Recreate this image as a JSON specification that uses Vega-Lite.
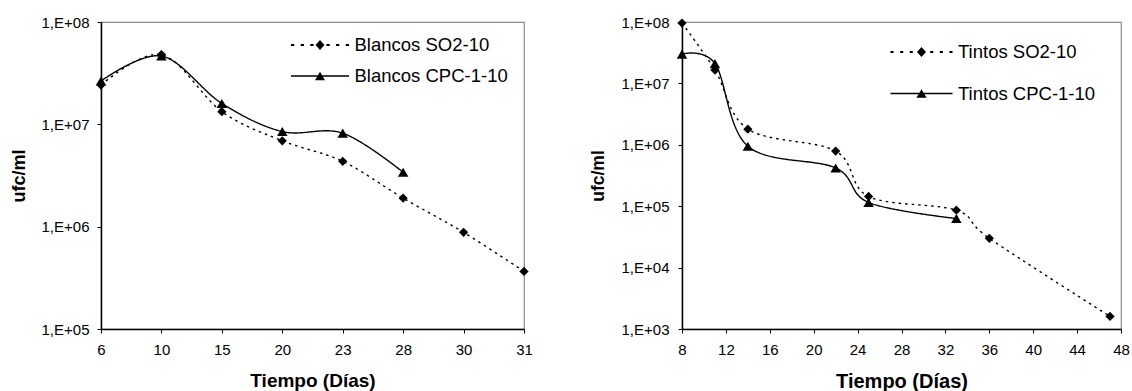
{
  "$schema": "https://vega.github.io/schema/vega-lite/v6.json",
  "background": "white",
  "padding": {"left": 9, "top": 14, "right": 5, "bottom": 0},
  "spacing": 55,
  "config": {
    "font": "Liberation Sans",
    "view": {"stroke": "#8a8a8a", "strokeWidth": 1.2},
    "axis": {
      "grid": false,
      "domainColor": "#000",
      "domainWidth": 1.5,
      "tickColor": "#000",
      "tickWidth": 1,
      "tickSize": 4,
      "labelFont": "Liberation Sans",
      "labelFontSize": 15,
      "labelColor": "#000",
      "titleFont": "Liberation Sans",
      "titleFontWeight": "bold",
      "titleColor": "#000"
    }
  },
  "resolve": {
    "scale": {"shape": "independent", "strokeDash": "independent", "x": "independent", "y": "independent"},
    "legend": {"shape": "independent"}
  },
  "datasets": {
    "blancos": [
      {"dia": 6, "ufc": 24200000, "serie": "Blancos SO2-10"},
      {"dia": 10, "ufc": 48000000, "serie": "Blancos SO2-10"},
      {"dia": 15, "ufc": 13300000, "serie": "Blancos SO2-10"},
      {"dia": 20, "ufc": 6900000, "serie": "Blancos SO2-10"},
      {"dia": 23, "ufc": 4350000, "serie": "Blancos SO2-10"},
      {"dia": 28, "ufc": 1900000, "serie": "Blancos SO2-10"},
      {"dia": 30, "ufc": 880000, "serie": "Blancos SO2-10"},
      {"dia": 31, "ufc": 365000, "serie": "Blancos SO2-10"},
      {"dia": 6, "ufc": 26500000, "serie": "Blancos CPC-1-10"},
      {"dia": 10, "ufc": 46500000, "serie": "Blancos CPC-1-10"},
      {"dia": 15, "ufc": 16000000, "serie": "Blancos CPC-1-10"},
      {"dia": 20, "ufc": 8500000, "serie": "Blancos CPC-1-10"},
      {"dia": 23, "ufc": 8200000, "serie": "Blancos CPC-1-10"},
      {"dia": 28, "ufc": 3400000, "serie": "Blancos CPC-1-10"}
    ],
    "tintos": [
      {"dia": 8, "ufc": 96000000, "serie": "Tintos SO2-10"},
      {"dia": 11, "ufc": 16500000, "serie": "Tintos SO2-10"},
      {"dia": 14, "ufc": 1800000, "serie": "Tintos SO2-10"},
      {"dia": 22, "ufc": 790000, "serie": "Tintos SO2-10"},
      {"dia": 25, "ufc": 144000, "serie": "Tintos SO2-10"},
      {"dia": 33, "ufc": 86000, "serie": "Tintos SO2-10"},
      {"dia": 36, "ufc": 30000, "serie": "Tintos SO2-10"},
      {"dia": 47, "ufc": 1600, "serie": "Tintos SO2-10"},
      {"dia": 8, "ufc": 30000000, "serie": "Tintos CPC-1-10"},
      {"dia": 11, "ufc": 21000000, "serie": "Tintos CPC-1-10"},
      {"dia": 14, "ufc": 950000, "serie": "Tintos CPC-1-10"},
      {"dia": 22, "ufc": 420000, "serie": "Tintos CPC-1-10"},
      {"dia": 25, "ufc": 115000, "serie": "Tintos CPC-1-10"},
      {"dia": 33, "ufc": 63000, "serie": "Tintos CPC-1-10"}
    ]
  },
  "hconcat": [
    {
      "width": 423,
      "height": 307,
      "data": {"name": "blancos"},
      "layer": [
        {
          "mark": {"type": "line", "interpolate": "cardinal", "tension": 0, "color": "#000", "strokeWidth": 1.4},
          "encoding": {
            "x": {"field": "dia", "type": "ordinal", "scale": {"type": "point", "padding": 0}, "axis": {"title": "Tiempo (Días)", "titleFontSize": 19, "labelAngle": 0, "labelPadding": 9, "titlePadding": 14}},
            "y": {"field": "ufc", "type": "quantitative", "scale": {"type": "log", "domain": [100000, 100000000], "nice": false}, "axis": {"title": "ufc/ml", "titleFontSize": 18, "values": [100000, 1000000, 10000000, 100000000], "labelExpr": "'1,E+0' + round(log(datum.value)/LN10)", "labelPadding": 8, "titlePadding": 13}},
            "strokeDash": {"field": "serie", "type": "nominal", "scale": {"domain": ["Blancos SO2-10", "Blancos CPC-1-10"], "range": [[2.5, 4], [1, 0]]}, "legend": null}
          }
        },
        {
          "mark": {"type": "point", "filled": true, "color": "#000", "opacity": 1},
          "encoding": {
            "x": {"field": "dia", "type": "ordinal"},
            "y": {"field": "ufc", "type": "quantitative"},
            "shape": {"field": "serie", "type": "nominal", "scale": {"domain": ["Blancos SO2-10", "Blancos CPC-1-10"], "range": ["diamond", "triangle-up"]}, "legend": null},
            "size": {"condition": {"test": "datum.serie == 'Blancos SO2-10'", "value": 85}, "value": 110}
          }
        },
        {
          "transform": [{"filter": "false"}],
          "mark": {"type": "point", "filled": true, "color": "#000", "opacity": 1, "strokeWidth": 0},
          "encoding": {
            "x": {"field": "dia", "type": "ordinal"},
            "y": {"field": "ufc", "type": "quantitative"},
            "shape": {
              "field": "serie", "type": "nominal",
              "scale": {"domain": ["Blancos SO2-10", "Blancos CPC-1-10"], "range": [
                "M-1.933,-0.06H-1.713V0.06H-1.933ZM-1.287,-0.06H-1.067V0.06H-1.287ZM-0.647,-0.06H-0.427V0.06H-0.647ZM0.427,-0.06H0.647V0.06H0.427ZM1.067,-0.06H1.287V0.06H1.067ZM1.713,-0.06H1.933V0.06H1.713ZM0,-0.333L0.3,0L0,0.333L-0.3,0Z",
                "M-1.933,-0.045H1.933V0.045H-1.933ZM0,-0.28L0.333,0.28L-0.333,0.28Z"
              ]},
              "legend": {"title": null, "orient": "none", "legendX": 203.5, "legendY": 7.5, "symbolSize": 900, "symbolStrokeWidth": 1, "symbolFillColor": "#000", "symbolOpacity": 1, "labelFontSize": 18.5, "labelFont": "Liberation Sans", "labelColor": "#000", "labelOffset": 19, "rowPadding": 6, "labelLimit": 400, "padding": 0, "direction": "vertical",
                "encode": {"symbols": {"fill": {"value": "#000"}, "opacity": {"value": 1}}}}
            }
          }
        }
      ],
      "resolve": {"scale": {"shape": "independent"}}
    },
    {
      "width": 439,
      "height": 307,
      "data": {"name": "tintos"},
      "layer": [
        {
          "mark": {"type": "line", "interpolate": "cardinal", "tension": 0, "color": "#000", "strokeWidth": 1.4},
          "encoding": {
            "x": {"field": "dia", "type": "quantitative", "scale": {"domain": [8, 48], "nice": false}, "axis": {"title": "Tiempo (Días)", "titleFontSize": 20, "values": [8, 12, 16, 20, 24, 28, 32, 36, 40, 44, 48], "labelFlush": false, "labelPadding": 9, "titlePadding": 14}},
            "y": {"field": "ufc", "type": "quantitative", "scale": {"type": "log", "domain": [1000, 100000000], "nice": false}, "axis": {"title": "ufc/ml", "titleFontSize": 17.5, "values": [1000, 10000, 100000, 1000000, 10000000, 100000000], "labelExpr": "'1,E+0' + round(log(datum.value)/LN10)", "labelPadding": 9, "titlePadding": 14}},
            "strokeDash": {"field": "serie", "type": "nominal", "scale": {"domain": ["Tintos SO2-10", "Tintos CPC-1-10"], "range": [[2.5, 4], [1, 0]]}, "legend": null}
          }
        },
        {
          "mark": {"type": "point", "filled": true, "color": "#000", "opacity": 1},
          "encoding": {
            "x": {"field": "dia", "type": "quantitative"},
            "y": {"field": "ufc", "type": "quantitative"},
            "shape": {"field": "serie", "type": "nominal", "scale": {"domain": ["Tintos SO2-10", "Tintos CPC-1-10"], "range": ["diamond", "triangle-up"]}, "legend": null},
            "size": {"condition": {"test": "datum.serie == 'Tintos SO2-10'", "value": 85}, "value": 110}
          }
        },
        {
          "transform": [{"filter": "false"}],
          "mark": {"type": "point", "filled": true, "color": "#000", "opacity": 1, "strokeWidth": 0},
          "encoding": {
            "x": {"field": "dia", "type": "quantitative"},
            "y": {"field": "ufc", "type": "quantitative"},
            "shape": {
              "field": "serie", "type": "nominal",
              "scale": {"domain": ["Tintos SO2-10", "Tintos CPC-1-10"], "range": [
                "M-1,-0.029H-0.9V0.029H-1ZM-0.69,-0.029H-0.59V0.029H-0.69ZM-0.38,-0.029H-0.28V0.029H-0.38ZM0.28,-0.029H0.38V0.029H0.28ZM0.59,-0.029H0.69V0.029H0.59ZM0.9,-0.029H1V0.029H0.9ZM0,-0.16L0.145,0L0,0.16L-0.145,0Z",
                "M-1,-0.021H1V0.021H-1ZM0,-0.135L0.165,0.135L-0.165,0.135Z"
              ]},
              "legend": {"title": null, "orient": "none", "legendX": 208, "legendY": -1.5, "symbolSize": 3844, "symbolStrokeWidth": 1, "symbolFillColor": "#000", "symbolOpacity": 1, "labelFontSize": 18.5, "labelFont": "Liberation Sans", "labelColor": "#000", "labelOffset": 5, "rowPadding": 0.5, "labelLimit": 400, "padding": 0, "direction": "vertical",
                "encode": {"symbols": {"fill": {"value": "#000"}, "opacity": {"value": 1}}}}
            }
          }
        }
      ],
      "resolve": {"scale": {"shape": "independent"}}
    }
  ]
}
